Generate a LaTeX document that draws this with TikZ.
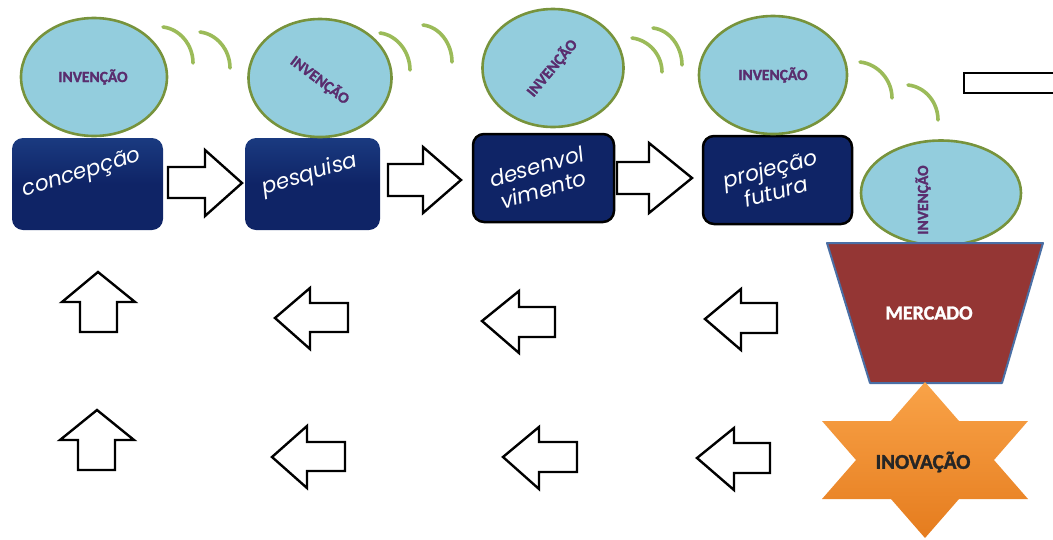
\documentclass[tikz,border=0pt]{standalone}
\usepackage{fontspec}
\setmainfont{Carlito}
\newfontfamily\heavy{Carlito}[UprightFont={* Bold}, FakeBold=1.6]
\newfontfamily\boxfont{Poppins}
\usetikzlibrary{shapes.geometric}

\definecolor{bubble}{HTML}{93CDDD}
\definecolor{bubbleedge}{HTML}{77933C}
\definecolor{wave}{HTML}{9BBB59}
\definecolor{navy}{HTML}{0F2466}
\definecolor{navytop}{HTML}{1A3A80}
\definecolor{inktext}{HTML}{5A2D6E}
\definecolor{market}{HTML}{943634}
\definecolor{marketedge}{HTML}{4A6FA5}
\definecolor{startop}{HTML}{F9A348}
\definecolor{starbot}{HTML}{E57C1E}

\tikzset{
  bubblenode/.style={ellipse, draw=bubbleedge, fill=bubble, line width=2.6pt, inner sep=0pt},
  invtext/.style={font=\heavy\fontsize{15.5}{16}\selectfont, text=inktext, inner sep=0pt},
  stagebox/.style={rectangle, rounded corners=11pt, inner sep=0pt},
  softbox/.style={stagebox, top color=navytop, bottom color=navy, middle color=navy},
  framedbox/.style={stagebox, fill=navy, draw=black, line width=2.5pt},
  stagetext/.style={font=\boxfont\itshape\fontsize{21.5}{24}\selectfont, text=white, align=center, inner sep=0pt},
  wavearc/.style={draw=wave, line width=3.6pt, line cap=round},
  blockarrow/.style={draw=black, fill=white, line width=2.4pt, line join=miter},
}

\begin{document}
\begin{tikzpicture}[x=1pt,y=-1pt]
  \useasboundingbox (0,0) rectangle (1053,539);
  \clip (0,0) rectangle (1053,539);

  % stage boxes
  \node[softbox, minimum width=151pt, minimum height=92pt] (b1) at (87.5,184) {};
  \node[softbox, minimum width=135pt, minimum height=92pt] (b2) at (312.5,184) {};
  \node[framedbox, minimum width=141pt, minimum height=88pt] (b3) at (543.5,178) {};
  \node[framedbox, minimum width=149pt, minimum height=88pt] (b4) at (777.5,180) {};

  \node[stagetext, rotate=17] (t1) at (82,174) {concepção};
  \node[stagetext, rotate=17] (t2) at (310,175) {pesquisa};
  \node[stagetext, rotate=16] (t3) at (540,178) {desenvol\\vimento};
  \node[stagetext, rotate=15] (t4) at (773,180) {projeção\\futura};

  % invention bubbles
  \node[bubblenode, minimum width=146pt, minimum height=118pt] (e1) at (94,77) {};
  \node[bubblenode, minimum width=143pt, minimum height=118pt] (e2) at (320,78) {};
  \node[bubblenode, minimum width=141pt, minimum height=118pt] (e3) at (553,68) {};
  \node[bubblenode, minimum width=148pt, minimum height=118pt] (e4) at (773,75) {};
  \node[bubblenode, minimum width=160pt, minimum height=105pt] (e5) at (941,193) {};

  \node[invtext] (i1) at (93,77) {INVENÇÃO};
  \node[invtext, rotate=-37] (i2) at (320,80) {INVENÇÃO};
  \node[invtext, rotate=50] (i3) at (552,68) {INVENÇÃO};
  \node[invtext] (i4) at (773,75) {INVENÇÃO};
  \node[invtext, rotate=90] (i5) at (923,200) {INVENÇÃO};

  % wave arcs
  \draw[wavearc] (163,27) .. controls (180,29) and (193,45) .. (193,63);
  \draw[wavearc] (200,32) .. controls (217,34) and (230,50) .. (230,68);
  \draw[wavearc] (380,33) .. controls (397,35) and (410,52) .. (410,70);
  \draw[wavearc] (423,25) .. controls (440,27) and (452,44) .. (452,62);
  \draw[wavearc] (632,38) .. controls (649,40) and (662,55) .. (662,72);
  \draw[wavearc] (653,28) .. controls (670,30) and (682,47) .. (682,65);
  \draw[wavearc] (860,62) .. controls (878,64) and (892,80) .. (892,98);
  \draw[wavearc] (908,85) .. controls (926,87) and (938,103) .. (938,120);

  % bar at the top right
  \draw[black, line width=2.8pt] (964,73) rectangle (1070,93);

  % arrows between stages
  \draw[blockarrow] (168,167) -- (205,167) -- (205,150) -- (242,183) -- (205,216) -- (205,198) -- (168,198) -- cycle;
  \draw[blockarrow] (388,164) -- (423,164) -- (423,147) -- (461,180) -- (423,213) -- (423,196) -- (388,196) -- cycle;
  \draw[blockarrow] (617,162) -- (649,162) -- (649,143) -- (692,178) -- (649,213) -- (649,194) -- (617,194) -- cycle;

  % upward arrows
  \draw[blockarrow] (98,272) -- (135,302) -- (117,302) -- (117,332) -- (80,332) -- (80,302) -- (62,302) -- cycle;
  \draw[blockarrow] (97,410) -- (134,440) -- (115,440) -- (115,470) -- (78,470) -- (78,440) -- (60,440) -- cycle;

  % leftward arrows, upper row
  \draw[blockarrow] (275,318) -- (310,288) -- (310,303) -- (348,303) -- (348,332) -- (310,332) -- (310,349) -- cycle;
  \draw[blockarrow] (482,321) -- (519,291) -- (519,307) -- (555,307) -- (555,337) -- (519,337) -- (519,353) -- cycle;
  \draw[blockarrow] (705,319) -- (741,289) -- (741,303) -- (777,303) -- (777,333) -- (741,333) -- (741,350) -- cycle;

  % leftward arrows, lower row
  \draw[blockarrow] (272,457) -- (307,426) -- (307,442) -- (345,442) -- (345,471) -- (307,471) -- (307,488) -- cycle;
  \draw[blockarrow] (503,457) -- (539,427) -- (539,442) -- (577,442) -- (577,472) -- (539,472) -- (539,489) -- cycle;
  \draw[blockarrow] (697,458) -- (734,428) -- (734,443) -- (770,443) -- (770,473) -- (734,473) -- (734,490) -- cycle;

  % market trapezoid
  \draw[fill=market, draw=marketedge, line width=2pt, line join=round]
    (827,243) -- (1043,243) -- (1002,383) -- (870,383) -- cycle;
  \node[font=\heavy\fontsize{20}{21}\selectfont, text=white] (m) at (929,313) {MERCADO};

  % innovation star
  \shade[top color=startop, bottom color=starbot]
    (925,382) -- (959,421) -- (1028,421) -- (994,460) -- (1028,499) -- (959,499)
    -- (925,538) -- (891,499) -- (822,499) -- (856,460) -- (822,421) -- (891,421) -- cycle;
  \node[font=\heavy\fontsize{21}{22}\selectfont, text=black!85] (s) at (923,462) {INOVAÇÃO};
\end{tikzpicture}
\end{document}
